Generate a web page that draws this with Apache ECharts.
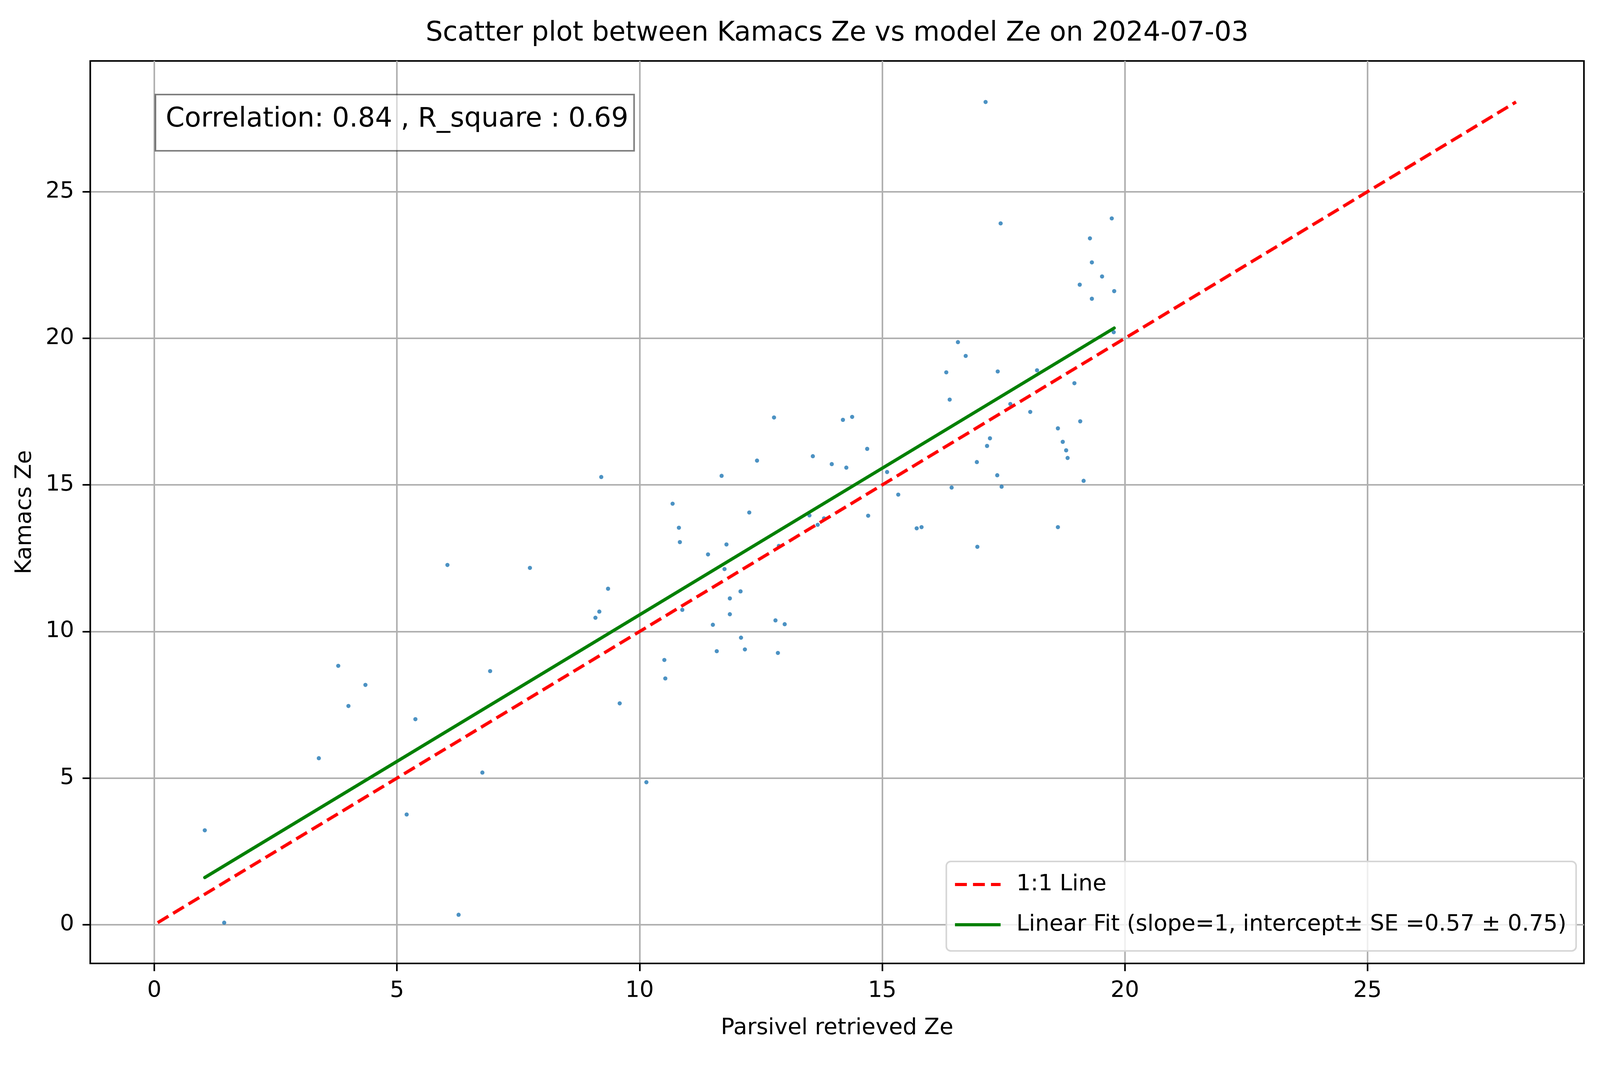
<!DOCTYPE html>
<html>
<head>
<meta charset="utf-8">
<title>Kamacs Ze vs model Ze</title>
<script src="https://cdn.jsdelivr.net/npm/echarts@6/dist/echarts.min.js"></script>
<style>
  html, body { margin: 0; padding: 0; background: #fff; overflow: hidden; }
  #chart { width: 100vw; height: 100vh; }
</style>
</head>
<body>
<div id="chart"></div>
<script>
'use strict';

// Parsivel retrieved Ze (x) and Kamacs Ze (y)
var parsivelZe = [
	1.04, 1.44, 3.39, 3.79, 4.00, 4.35, 5.20, 5.38, 6.04, 6.27, 6.76, 6.92, 7.74,
	9.09, 9.17, 9.21, 9.35, 9.59, 10.14, 10.51, 10.53, 10.68, 10.81, 10.83, 10.88,
	11.41, 11.51, 11.59, 11.69, 11.75, 11.79, 11.86, 11.86, 12.08, 12.09, 12.17,
	12.26, 12.42, 12.77, 12.80, 12.85, 12.87, 12.99, 13.50, 13.57, 13.67, 13.80,
	13.96, 14.19, 14.26, 14.38, 14.69, 14.71, 15.10, 15.33, 15.71, 15.81,
	17.13, 17.44, 19.73, 19.28, 19.32, 19.53, 19.07, 19.78, 19.32, 19.77, 16.56,
	16.72, 16.32, 16.39, 17.38, 18.19, 18.96, 17.64, 18.05, 19.08, 18.62, 18.72,
	18.79, 18.82, 17.22, 17.16, 16.95, 17.37, 19.15, 17.46, 16.43, 18.62, 16.96
];
var kamacsZe = [
	3.22, 0.07, 5.68, 8.83, 7.46, 8.18, 3.76, 7.01, 12.27, 0.34, 5.19, 8.65, 12.17,
	10.47, 10.68, 15.27, 11.46, 7.55, 4.86, 9.03, 8.40, 14.36, 13.54, 13.05, 10.74,
	12.63, 10.23, 9.33, 15.31, 12.13, 12.97, 11.13, 10.59, 11.37, 9.79, 9.39,
	14.06, 15.83, 17.30, 10.38, 9.27, 12.92, 10.25, 13.96, 15.98, 13.64, 13.86,
	15.71, 17.22, 15.59, 17.32, 16.23, 13.95, 15.44, 14.67, 13.52, 13.56,
	28.06, 23.92, 24.09, 23.41, 22.59, 22.11, 21.83, 21.61, 21.35, 20.21, 19.87,
	19.40, 18.84, 17.91, 18.87, 18.91, 18.47, 17.76, 17.49, 17.17, 16.93, 16.47,
	16.18, 15.92, 16.59, 16.33, 15.78, 15.33, 15.14, 14.94, 14.91, 13.56, 12.89
];

// line end points
var oneToOneX = [0.07, 28.06];
var oneToOneY = [0.07, 28.06];
var fitX = [1.04, 19.78];
var fitY = [1.61, 20.35];

var tickValues = [0, 5, 10, 15, 20, 25];
var xRange = [-1.32, 29.46];
var yRange = [-1.32, 29.46];

var titleText = 'Scatter plot between Kamacs Ze vs model Ze on 2024-07-03';
var statsText = 'Correlation: 0.84 , R_square : 0.69';
var xName = 'Parsivel retrieved Ze';
var yName = 'Kamacs Ze';
var lineNames = ['1:1 Line', 'Linear Fit (slope=1, intercept\u00b1 SE =0.57 \u00b1 0.75)'];

var FONT = 'DejaVu Sans';

// layout was measured on a 4981 x 2726 canvas; scale to whatever the page is
var W = window.innerWidth || 4981;
var H = window.innerHeight || 2726;
var sx = W / 4981, sy = H / 2726, sf = Math.min(sx, sy);
function X(v) { return v * sx; }
function Y(v) { return v * sy; }
function F(v) { return v * sf; }

function pairs(xs, ys) {
	return xs.map(function (v, i) { return [v, ys[i]]; });
}

function axisOf(range, name, nameGap, labelMargin) {
	return {
		type: 'value',
		min: range[0],
		max: range[1],
		name: name,
		nameLocation: 'middle',
		nameGap: nameGap,
		nameTextStyle: { fontFamily: FONT, fontSize: F(70), color: '#000' },
		axisLine: { show: true, onZero: false, lineStyle: { color: '#000', width: F(5) } },
		axisTick: {
			show: true, inside: false, length: F(24),
			customValues: tickValues,
			lineStyle: { color: '#000', width: F(5) }
		},
		axisLabel: {
			customValues: tickValues,
			margin: labelMargin,
			fontFamily: FONT, fontSize: F(70), color: '#000'
		},
		splitLine: { show: true, lineStyle: { color: '#b0b0b0', width: F(5) } }
	};
}

// matplotlib-like legend handles: dashed and solid strokes
var dashIcon = 'path://M0 0h37v10h-37z M56 0h37v10h-37z M112 0h30v10h-30z';
var solidIcon = 'path://M0 0h142v10h-142z';

var chart = echarts.init(document.getElementById('chart'), null, { width: W, height: H });

var option = {
	backgroundColor: '#fff',
	animation: false,
	grid: {
		left: X(281), right: X(50), top: Y(156), bottom: Y(260),
		show: true, borderColor: '#000', borderWidth: F(5), backgroundColor: 'transparent'
	},
	xAxis: axisOf(xRange, xName, Y(137), Y(42)),
	yAxis: axisOf(yRange, yName, X(168), X(50)),
	legend: {
		data: [
			{ name: lineNames[0], icon: dashIcon },
			{ name: lineNames[1], icon: solidIcon }
		],
		orient: 'vertical',
		left: X(2946),
		top: Y(2205),
		padding: [Y(17), X(30), Y(25), X(27)],
		itemWidth: X(142),
		itemHeight: F(10),
		itemGap: Y(19),
		backgroundColor: 'rgba(255,255,255,0.8)',
		borderColor: '#d6d6d6',
		borderWidth: F(5),
		borderRadius: F(14),
		textStyle: {
			fontFamily: FONT, fontSize: F(70), color: '#000',
			lineHeight: Y(84), padding: [0, 0, 0, X(43)]
		}
	},
	series: [{
		type: 'scatter',
		name: 'points',
		data: pairs(parsivelZe, kamacsZe),
		symbol: 'circle',
		symbolSize: F(13),
		itemStyle: { color: '#1f77b4' },
		z: 2
	}, {
		type: 'line',
		name: lineNames[0],
		data: pairs(oneToOneX, oneToOneY),
		symbol: 'none',
		lineStyle: { color: '#ff0000', width: F(10), type: [F(39), F(17)] },
		itemStyle: { color: '#ff0000' },
		z: 3
	}, {
		type: 'line',
		name: lineNames[1],
		data: pairs(fitX, fitY),
		symbol: 'none',
		lineStyle: { color: '#008000', width: F(10), cap: 'round' },
		itemStyle: { color: '#008000' },
		z: 4
	}],
	graphic: [{
		type: 'text',
		x: X(2606),
		y: Y(86),
		style: {
			text: titleText,
			font: F(84) + 'px "DejaVu Sans"',
			fill: '#000',
			align: 'center', verticalAlign: 'middle',
			textAlign: 'center', textVerticalAlign: 'middle'
		}
	}, {
		type: 'rect',
		shape: { x: X(484), y: Y(242), width: X(1490), height: Y(144) },
		style: { fill: 'rgba(255,255,255,0.5)', stroke: 'rgba(0,0,0,0.5)', lineWidth: F(5) },
		z: 10
	}, {
		type: 'text',
		x: X(516),
		y: Y(306),
		style: {
			text: statsText,
			font: F(84) + 'px "DejaVu Sans"',
			fill: '#000',
			align: 'left', verticalAlign: 'middle',
			textAlign: 'left', textVerticalAlign: 'middle'
		},
		z: 11
	}]
};

chart.setOption(option);
</script>
</body>
</html>
